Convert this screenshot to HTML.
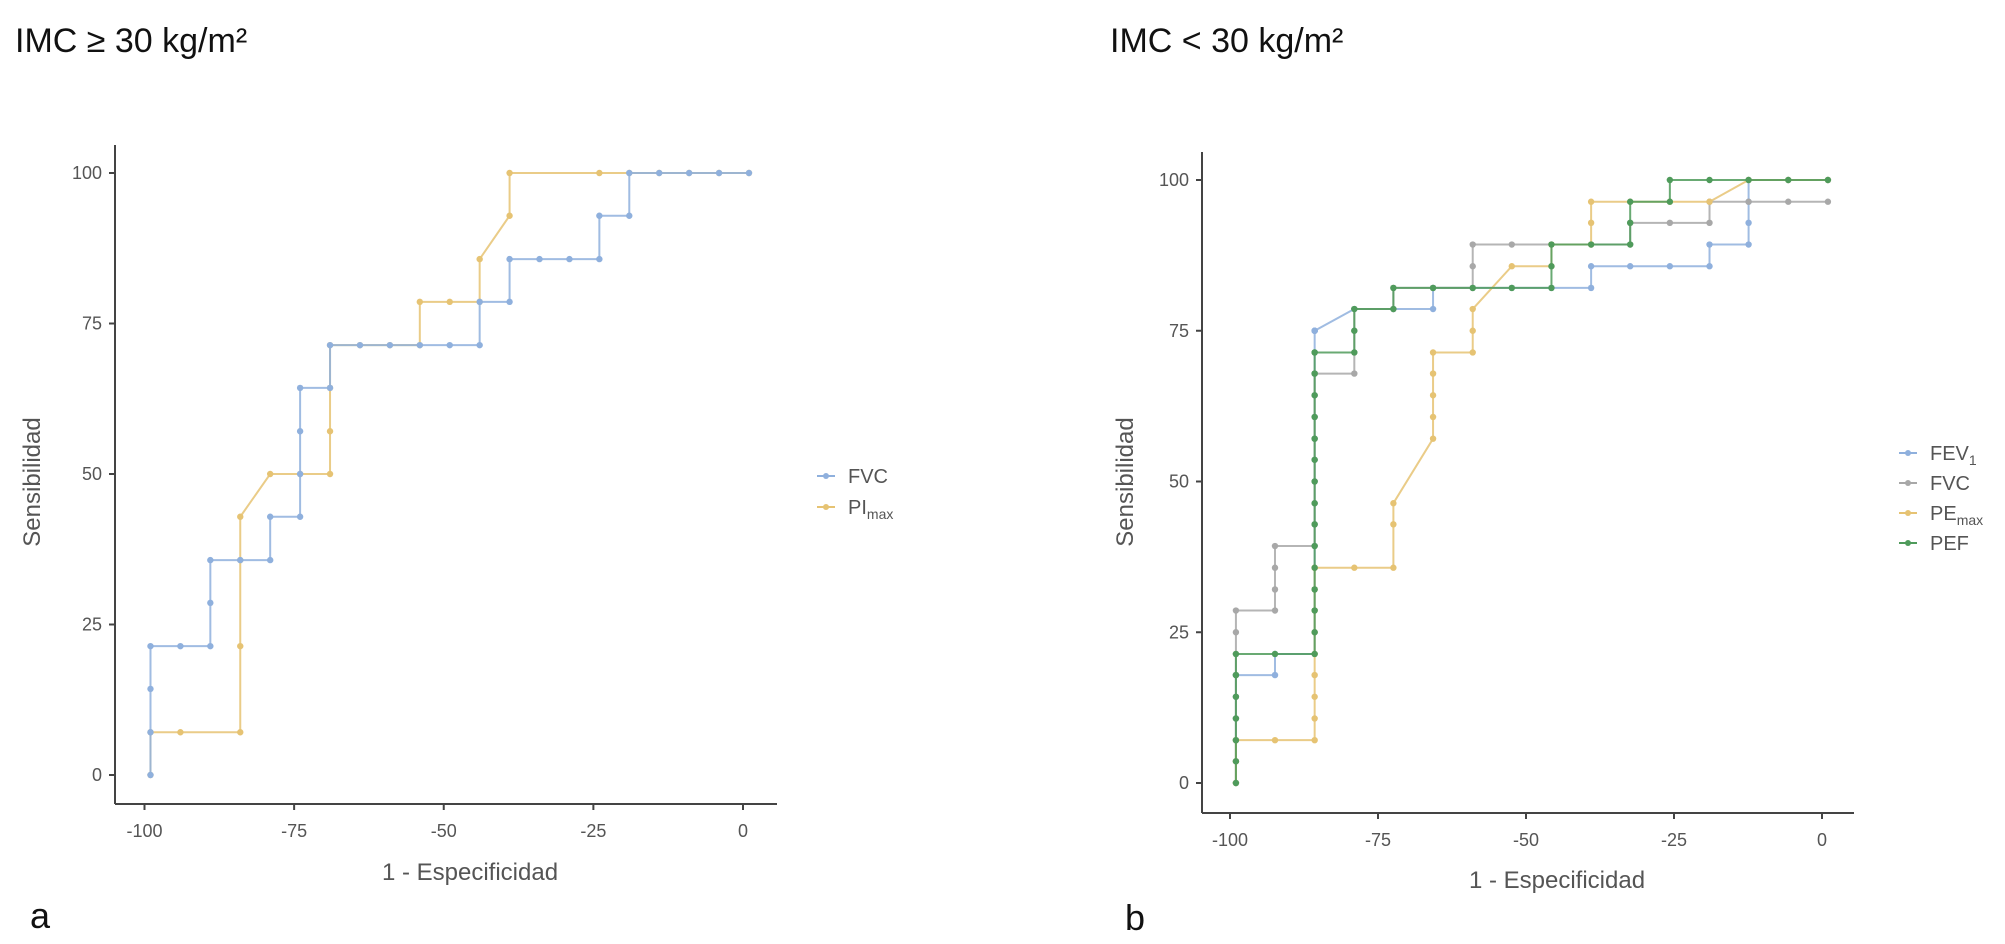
<!DOCTYPE html>
<html><head><meta charset="utf-8"><style>
html,body{margin:0;padding:0;background:#fff;}
svg{display:block;font-family:"Liberation Sans",sans-serif;}
</style></head><body>
<svg id="svg" width="2005" height="944" viewBox="0 0 2005 944" xmlns="http://www.w3.org/2000/svg">
<text x="15" y="52" font-size="34" fill="#111">IMC ≥ 30 kg/m²</text>
<text x="1110" y="52" font-size="34" fill="#111">IMC &lt; 30 kg/m²</text>
<text x="30" y="928" font-size="36" fill="#111">a</text>
<text x="1125" y="930" font-size="36" fill="#111">b</text>
<g id="left"></g>
<g id="right"></g>
</svg>
<script>
// ---- Left chart data (IMC >= 30) ----
const leftXVals = [-99,-94,-89,-84,-79,-74,-69,-64,-59,-54,-49,-44,-39,-34,-29,-24,-19,-14,-9,-4,1];
const leftFvcIdx = [0,0,0,0,1,2,2,2,3,4,4,5,5,5,5,6,6,7,8,9,10,11,11,12,12,13,14,15,15,16,16,17,18,19,20];
const leftFvcY   = [0,7.1,14.3,21.4,21.4,21.4,28.6,35.7,35.7,35.7,42.9,42.9,50,57.1,64.3,64.3,71.4,71.4,71.4,71.4,71.4,71.4,78.6,78.6,85.7,85.7,85.7,85.7,92.9,92.9,100,100,100,100,100];
const leftPiIdx = [0,0,1,3,3,3,3,4,5,6,6,6,6,7,8,9,9,10,11,11,12,12,15,16,17,18,19,20];
const leftPiY   = [0,7.1,7.1,7.1,21.4,35.7,42.9,50,50,50,57.1,64.3,71.4,71.4,71.4,71.4,78.6,78.6,78.6,85.7,92.9,100,100,100,100,100,100,100];
// ---- Right chart data (IMC < 30) ----
const rightXVals = [-99,-92.4,-85.7,-79,-72.4,-65.7,-59,-52.4,-45.7,-39,-32.4,-25.7,-19,-12.4,-5.7,1];
const rFevIdx = [0,0,0,0,0,0,1,1,2,2,2,2,2,2,2,2,2,2,2,2,2,2,2,2,2,2,2,3,4,5,5,6,7,8,9,9,10,11,12,12,13,13,13,13,14,15];
const rFevY   = [0,3.6,7.1,10.7,14.3,17.9,17.9,21.4,21.4,25,28.6,32.1,35.7,39.3,42.9,46.4,50,53.6,57.1,60.7,64.3,67.9,71.4,75,75,75,75,78.6,78.6,78.6,82.1,82.1,82.1,82.1,82.1,85.7,85.7,85.7,85.7,89.3,89.3,92.9,96.4,100,100,100];
const rFvcIdx = [0,0,0,0,0,0,0,0,0,1,1,1,1,2,2,2,2,2,2,2,2,2,2,3,3,3,3,4,4,5,6,6,6,7,8,9,10,10,11,12,12,13,14,15];
const rFvcY   = [0,3.6,7.1,10.7,14.3,17.9,21.4,25,28.6,28.6,32.1,35.7,39.3,39.3,42.9,46.4,50,53.6,57.1,60.7,64.3,67.9,67.9,67.9,71.4,75,78.6,78.6,82.1,82.1,82.1,85.7,89.3,89.3,89.3,89.3,89.3,92.9,92.9,92.9,96.4,96.4,96.4,96.4];
const rPeIdx = [0,0,0,1,2,2,2,2,2,2,2,2,2,2,2,3,4,4,4,5,5,5,5,5,6,6,6,7,8,8,9,9,9,10,11,12,13,14,15];
const rPeY   = [0,3.6,7.1,7.1,7.1,10.7,14.3,17.9,21.4,25,28.6,32.1,35.7,35.7,35.7,35.7,35.7,42.9,46.4,57.1,60.7,64.3,67.9,71.4,71.4,75,78.6,85.7,85.7,89.3,89.3,92.9,96.4,96.4,96.4,96.4,100,100,100];
const rPefIdx = [0,0,0,0,0,0,0,1,2,2,2,2,2,2,2,2,2,2,2,2,2,2,2,2,3,3,3,4,4,5,6,7,8,8,8,9,10,10,10,11,11,12,13,14,15];
const rPefY   = [0,3.6,7.1,10.7,14.3,17.9,21.4,21.4,21.4,25,28.6,32.1,35.7,39.3,42.9,46.4,50,53.6,57.1,60.7,64.3,67.9,71.4,71.4,71.4,75,78.6,78.6,82.1,82.1,82.1,82.1,82.1,85.7,89.3,89.3,89.3,92.9,96.4,96.4,100,100,100,100,100];
const xTicks = [-100,-75,-50,-25,0];
const yTicks = [0,25,50,75,100];

const NS = "http://www.w3.org/2000/svg";
function mk(tag, attrs, parent){const e=document.createElementNS(NS,tag);for(const k in attrs)e.setAttribute(k,attrs[k]);parent.appendChild(e);return e;}

function drawChart(g, cfg, series, order, legendX, legendYs){
  const sx = v => cfg.xm + (v+100)/100*(cfg.x0-cfg.xm);
  const sy = v => cfg.y0 - v/100*(cfg.y0-cfg.y100);
  const ax = mk('line',{x1:cfg.ax,y1:cfg.atop,x2:cfg.ax,y2:cfg.abot,stroke:'#444','stroke-width':2},g);
   
  const bx = mk('line',{x1:cfg.ax,y1:cfg.abot,x2:cfg.aright,y2:cfg.abot,stroke:'#444','stroke-width':2},g);
   
  yTicks.forEach(t=>{
    mk('line',{x1:cfg.ax-6,y1:sy(t),x2:cfg.ax,y2:sy(t),stroke:'#444','stroke-width':2},g);
    const tx = mk('text',{x:cfg.ax-13,y:sy(t)+6,'font-size':18,fill:'#555','text-anchor':'end'},g);
    tx.textContent=t;
     
  });
  xTicks.forEach(t=>{
    mk('line',{x1:sx(t),y1:cfg.abot,x2:sx(t),y2:cfg.abot+6,stroke:'#444','stroke-width':2},g);
    const tx = mk('text',{x:sx(t),y:cfg.abot+33,'font-size':18,fill:'#555','text-anchor':'middle'},g);
    tx.textContent=t;
     
  });
  const xl = mk('text',{x:cfg.xlx,y:cfg.xly,'font-size':24,fill:'#555','text-anchor':'middle'},g);
  xl.textContent='1 - Especificidad';
   
  const yl = mk('text',{x:0,y:0,'font-size':24,fill:'#555','text-anchor':'middle',transform:`translate(${cfg.ylx},${cfg.yly}) rotate(-90)`},g);
  yl.textContent='Sensibilidad';
   
  order.forEach(si=>{
    const s = series[si];
    const pts = s.idx.map((k,i)=>[sx(cfg.xv[k]), sy(s.y[i])]);
    const p = mk('polyline',{points:pts.map(q=>q.join(',')).join(' '),fill:'none',stroke:s.c,'stroke-width':2,'stroke-opacity':0.85},g);
     
    pts.forEach(q=>{
      const c = mk('circle',{cx:q[0],cy:q[1],r:3.2,fill:s.c},g);
       
    });
  });
  series.forEach((s,si)=>{
    const ly = legendYs[si];
    const lg = mk('g',{},g);
     
    mk('line',{x1:legendX-9,y1:ly,x2:legendX+9,y2:ly,stroke:s.c,'stroke-width':2},lg);
    mk('circle',{cx:legendX,cy:ly,r:3,fill:s.c},lg);
    const t = mk('text',{x:legendX+22,y:ly+7,'font-size':20,fill:'#555'},lg);
    t.innerHTML = s.label;
  });
}
const BLUE='#8fb0dd', GRAY='#a8a8a8', ORANGE='#e6c373', GREEN='#4f9b5b';
drawChart(document.getElementById('left'),
  {xm:144.5,x0:743,y0:775,y100:173,ax:115,atop:145,abot:804,aright:777,xv:leftXVals,xlx:470,xly:880,ylx:40,yly:482},
  [{key:'fvc',idx:leftFvcIdx,y:leftFvcY,c:BLUE,label:'FVC'},
   {key:'pimax',idx:leftPiIdx,y:leftPiY,c:ORANGE,label:'PI<tspan font-size="14" dy="5">max</tspan>'}],
  [1,0], 826,[476,507]);
drawChart(document.getElementById('right'),
  {xm:1230,x0:1822,y0:783,y100:180,ax:1202,atop:152,abot:813,aright:1854,xv:rightXVals,xlx:1557,xly:888,ylx:1133,yly:482},
  [{key:'fev1',idx:rFevIdx,y:rFevY,c:BLUE,label:'FEV<tspan font-size="14" dy="5">1</tspan>'},
   {key:'fvc',idx:rFvcIdx,y:rFvcY,c:GRAY,label:'FVC'},
   {key:'pemax',idx:rPeIdx,y:rPeY,c:ORANGE,label:'PE<tspan font-size="14" dy="5">max</tspan>'},
   {key:'pef',idx:rPefIdx,y:rPefY,c:GREEN,label:'PEF'}],
  [0,1,2,3], 1908,[453,483,513,543]);
</script>
</body></html>
